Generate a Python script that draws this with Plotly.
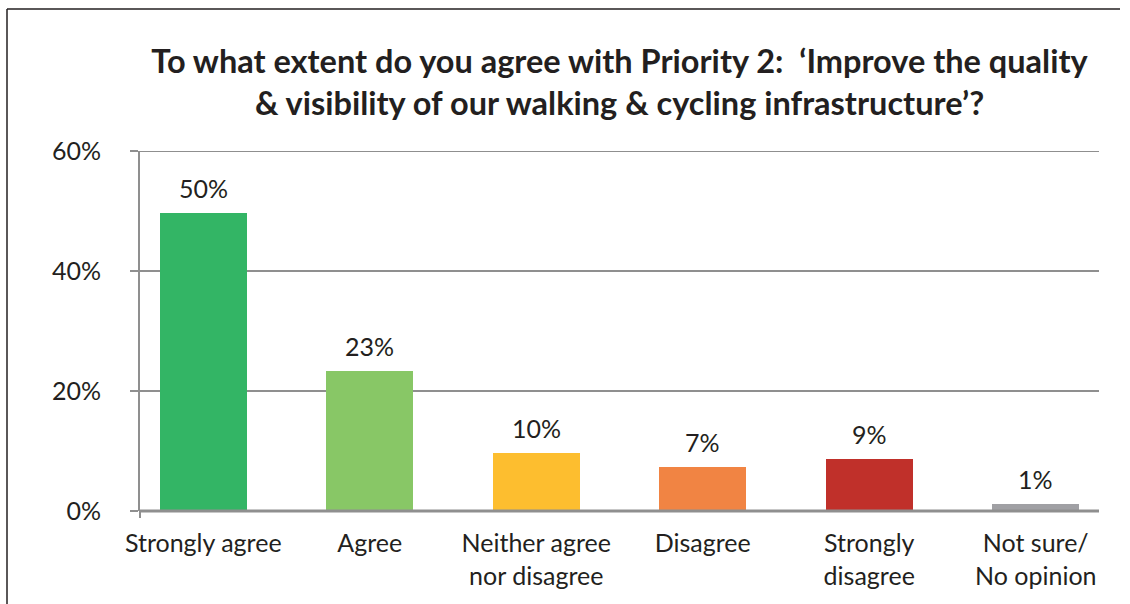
import plotly.graph_objects as go

categories = ["Strongly agree", "Agree", "Neither agree<br>nor disagree", "Disagree",
              "Strongly<br>disagree", "Not sure/<br>No opinion"]
values = [49.7, 23.3, 9.7, 7.3, 8.7, 1.2]
value_labels = ["50%", "23%", "10%", "7%", "9%", "1%"]
colors = ["#33B565", "#88C766", "#FDBE2F", "#F18443", "#C0302A", "#A0A0A4"]
y_ticks = [0, 20, 40, 60]
y_tick_labels = ["0%", "20%", "40%", "60%"]
title = ("To what extent do you agree with Priority 2:  \u2018Improve the quality<br>"
         "& visibility of our walking & cycling infrastructure\u2019?")

FONT = "Lato"
TXT = "#231F20"
GRID = "#8F8F8F"
W, H = 1130, 604
L, R, T, B = 140, 1099, 151, 511

xs = list(range(len(categories)))

fig = go.Figure(go.Bar(
    x=xs, y=values,
    marker=dict(color=colors, line=dict(width=0)),
    width=0.52,
    cliponaxis=False,
))

for x, v, lab in zip(xs, values, value_labels):
    fig.add_annotation(x=x, y=v, text=lab, showarrow=False, yanchor="bottom",
                       yshift=8, font=dict(family=FONT, size=25, color=TXT))

def px_x(p):
    return (p - L) / (R - L)

def px_y(p):
    return (B - p) / (B - T)

fig.update_layout(
    width=W, height=H,
    margin=dict(l=L, r=W - R, t=T, b=H - B, pad=0),
    paper_bgcolor="white", plot_bgcolor="white",
    showlegend=False,
    bargap=0,
    title=dict(text=title, x=0.5, xref="paper", xanchor="center",
               y=1 - 73 / H, yanchor="middle",
               font=dict(family=FONT, size=32.5, color=TXT, weight="bold")),
    xaxis=dict(
        tickmode="array", tickvals=xs, ticktext=categories,
        range=[-0.38, 5.38], showgrid=False, zeroline=False,
        showline=False, ticks="", ticklabelstandoff=15,
        tickfont=dict(family=FONT, size=25, color=TXT),
    ),
    yaxis=dict(
        range=[0, 60], tickmode="array", tickvals=y_ticks, ticktext=y_tick_labels,
        showgrid=True, gridcolor=GRID, gridwidth=2,
        zeroline=False, showline=True, linecolor=GRID, linewidth=2,
        ticks="outside", ticklen=8, tickwidth=2, tickcolor=GRID,
        ticklabelstandoff=24,
        tickfont=dict(family=FONT, size=25, color=TXT),
    ),
    shapes=[
        dict(type="line", xref="paper", yref="y", x0=0, x1=1, y0=y_ticks[-1], y1=y_ticks[-1],
             line=dict(color=GRID, width=2), layer="below"),
        dict(type="line", xref="paper", yref="paper", x0=0, x1=1, y0=0, y1=0,
             line=dict(color=GRID, width=3), layer="above"),
        dict(type="line", xref="paper", yref="paper", x0=0, x1=0, y0=0, y1=px_y(518),
             line=dict(color=GRID, width=2)),
        dict(type="line", xref="paper", yref="paper", x0=px_x(7), x1=px_x(1120),
             y0=px_y(9), y1=px_y(9), line=dict(color=TXT, width=1.5)),
        dict(type="line", xref="paper", yref="paper", x0=px_x(7), x1=px_x(7),
             y0=px_y(9), y1=px_y(610), line=dict(color=TXT, width=1.5)),
    ],
)

fig.write_html("out.html", config={"displayModeBar": False},
               post_script="document.body.style.margin='0';document.body.style.overflow='hidden';")
